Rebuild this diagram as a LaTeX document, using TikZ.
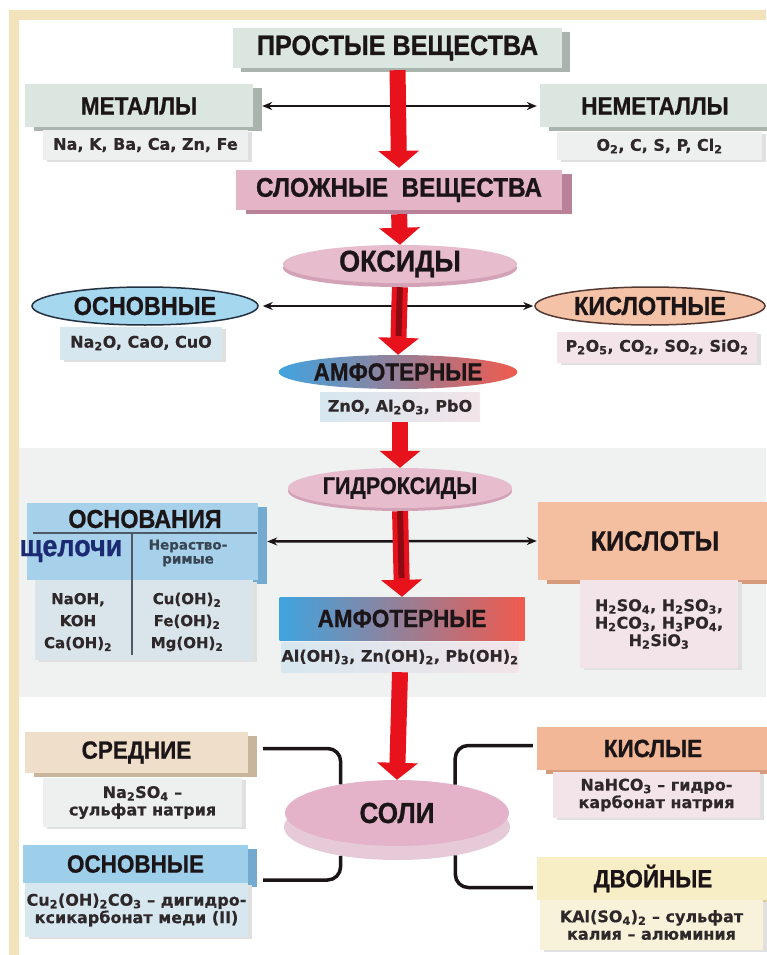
\documentclass[tikz,border=0pt]{standalone}
\usepackage{fontspec}
\newfontfamily\hdfam[FakeStretch=0.9, FakeBold=0.8]{Liberation Sans}
\newfontfamily\subfam[FakeBold=0.4]{DejaVu Sans}
\usetikzlibrary{shapes.geometric,shadows,arrows.meta}
\definecolor{ink}{HTML}{1C1517}
\definecolor{frameBeige}{HTML}{F2E3BD}
\definecolor{band}{HTML}{EFF2F0}
\definecolor{greyTile}{HTML}{DCE6E1}
\definecolor{greyShade}{HTML}{A9B4AF}
\definecolor{greyLight}{HTML}{EDF0EF}
\definecolor{pinkTile}{HTML}{E3B5C7}
\definecolor{pinkShade}{HTML}{BA8299}
\definecolor{ovalPink}{HTML}{E7BDCE}
\definecolor{ovalShade}{HTML}{D3A2B7}
\definecolor{blueOval}{HTML}{A5D7EE}
\definecolor{blueLine}{HTML}{22303F}
\definecolor{peachOval}{HTML}{F4C2A6}
\definecolor{peachLine}{HTML}{553A33}
\definecolor{blueSub}{HTML}{D6E7EF}
\definecolor{pinkSub}{HTML}{F2E4E9}
\definecolor{ampBlue}{HTML}{3FA4E0}
\definecolor{ampPink}{HTML}{DCBAD0}
\definecolor{ampRed}{HTML}{EF5A4E}
\definecolor{osnBlue}{HTML}{A7D1EA}
\definecolor{osnShade}{HTML}{74AAD0}
\definecolor{osnLight}{HTML}{D9E5EB}
\definecolor{kislPeach}{HTML}{F4BEA1}
\definecolor{peachShade}{HTML}{D69A7C}
\definecolor{sredBeige}{HTML}{EFDECA}
\definecolor{sredShade}{HTML}{C9B49C}
\definecolor{saltBlue}{HTML}{9DCFEA}
\definecolor{kislyePeach}{HTML}{F2B797}
\definecolor{dvoinYellow}{HTML}{F8EEC5}
\definecolor{dvoinShade}{HTML}{D8CC9C}
\definecolor{dvoinSub}{HTML}{F8F2DA}
\definecolor{soliPink}{HTML}{E4B3CA}
\definecolor{soliBaseCol}{HTML}{E6CAD7}
\definecolor{arrowRed}{HTML}{E8121C}
\definecolor{darkRed}{HTML}{8E0A12}
\definecolor{navy}{HTML}{1B2A72}
\newcommand\ix[1]{\textsubscript{#1}}
\tikzset{
  hd/.style={font=\hdfam\bfseries\fontsize{#1}{#1}\selectfont},
  hd/.default=25,
  tile/.style={rectangle, inner sep=0pt, text=ink, hd},
  subtile/.style={rectangle, inner sep=0pt, text=ink!92, align=center,
    font=\subfam\bfseries\fontsize{16}{17.5}\selectfont},
  oval/.style={ellipse, inner sep=0pt, text=ink, hd},
  slab/.style 2 args={drop shadow={shadow xshift=#1, shadow yshift=-4pt, fill=#2, opacity=1}},
  thinslab/.style={drop shadow={shadow xshift=4pt, shadow yshift=-2pt, fill=black!12, opacity=1}},
  redarrow/.style={draw=arrowRed, line width=16pt, -{Triangle[length=17pt,width=40pt]}},
  darkcore/.style={draw=darkRed, line width=6pt, shorten >=19pt},
  twoway/.style={draw=ink, line width=2.5pt, {Stealth[length=10pt,width=8pt]}-{Stealth[length=10pt,width=8pt]}},
  bracket/.style={draw=ink, line width=3.5pt, rounded corners=13pt},
  rule/.style={draw=blueLine!80, line width=2pt}
}
\begin{document}
\begin{tikzpicture}[x=1pt, y=-1pt]
\useasboundingbox (0,0) rectangle (766,955);
\fill[white] (0,0) rectangle (766,955);
\fill[frameBeige] (9,10) rectangle (766,955);
\fill[white!98!band] (19,20) rectangle (766,955);
\fill[band] (19,448) rectangle (766,697);

\node[tile, hd=28, fill=greyTile, slab={8pt}{greyShade}, minimum width=329pt, minimum height=40pt] (prostye) at (397.5,48) {ПРОСТЫЕ ВЕЩЕСТВА};
\node[tile, fill=greyTile, slab={9pt}{greyShade}, minimum width=228pt, minimum height=43pt] (metally) at (139,106) {МЕТАЛЛЫ};
\node[subtile, fill=greyLight, thinslab, minimum width=205pt, minimum height=30pt] (metallySub) at (145.5,145) {Na, K, Ba, Ca, Zn, Fe};
\node[tile, fill=greyTile, slab={9pt}{greyShade}, minimum width=230pt, minimum height=43pt] (nemetally) at (655,106) {НЕМЕТАЛЛЫ};
\node[subtile, fill=greyLight, thinslab, minimum width=205pt, minimum height=28pt] (nemetallySub) at (659.5,146) {O\ix{2}, C, S, P, Cl\ix{2}};
\node[tile, hd=27, fill=pinkTile, slab={10pt}{pinkShade}, minimum width=326pt, minimum height=40pt] (slozhnye) at (399,190) {СЛОЖНЫЕ\ \ ВЕЩЕСТВА};

\node[oval, hd=30, fill=ovalPink, drop shadow={shadow xshift=0pt, shadow yshift=-4pt, fill=ovalShade, opacity=1}, minimum width=234pt, minimum height=38pt] (oksidy) at (400,264) {ОКСИДЫ};
\node[oval, hd=26, fill=blueOval, draw=blueLine, line width=1.5pt, minimum width=226pt, minimum height=38pt] (osnOx) at (145,306) {ОСНОВНЫЕ};
\node[subtile, fill=blueSub, thinslab, minimum width=162pt, minimum height=33pt] (osnOxSub) at (141,343) {Na\ix{2}O, CaO, CuO};
\node[oval, hd=26, fill=peachOval, draw=peachLine, line width=1.5pt, minimum width=230pt, minimum height=38pt] (kislOx) at (650,306) {КИСЛОТНЫЕ};
\node[subtile, fill=pinkSub, thinslab, minimum width=200pt, minimum height=31pt] (kislOxSub) at (657,347) {P\ix{2}O\ix{5}, CO\ix{2}, SO\ix{2}, SiO\ix{2}};
\node[oval, left color=ampBlue, middle color=ampPink, right color=ampRed, minimum width=236pt, minimum height=34pt] (amfOx) at (398,372) {АМФОТЕРНЫЕ};
\node[subtile, left color=blueSub, right color=pinkSub, minimum width=160pt, minimum height=29pt] (amfOxSub) at (400,407) {ZnO, Al\ix{2}O\ix{3}, PbO};

\node[oval, hd=24, fill=ovalPink, drop shadow={shadow xshift=0pt, shadow yshift=-3pt, fill=ovalShade, opacity=1}, minimum width=224pt, minimum height=40pt] (gidroksidy) at (400,488) {ГИДРОКСИДЫ};
\node[tile, fill=osnBlue, slab={9pt}{osnShade}, minimum width=231pt, minimum height=77pt] (osnovaniya) at (142.5,541.5) {};
\node[subtile, fill=osnLight, thinslab, minimum width=218pt, minimum height=80pt] (osnList) at (144,620) {};
\node[text=ink, hd=26] (osnHead) at (145,519) {ОСНОВАНИЯ};
\draw[rule] (33,533) -- (257,533);
\draw[rule] (132,533) -- (132,655);
\node[text=navy, font=\hdfam\bfseries\fontsize{30}{30}\selectfont] (shchelochi) at (71,551) {щелочи};
\node[text=blueLine!90, align=center, font=\subfam\bfseries\fontsize{13.5}{14}\selectfont] (nerastv) at (188,553) {Нераство-\\римые};
\node[text=ink!92, align=center, font=\subfam\bfseries\fontsize{15}{22}\selectfont] (listSol) at (78,622) {NaOH,\\KOH\\Ca(OH)\ix{2}};
\node[text=ink!92, align=center, font=\subfam\bfseries\fontsize{15}{22}\selectfont] (listInsol) at (187,622) {Cu(OH)\ix{2}\\Fe(OH)\ix{2}\\Mg(OH)\ix{2}};
\node[tile, hd=28, fill=kislPeach, slab={9pt}{peachShade}, minimum width=234pt, minimum height=78pt] (kisloty) at (655,541) {КИСЛОТЫ};
\node[subtile, fill=pinkSub, thinslab, minimum width=158pt, minimum height=88pt] (kislotySub) at (659,624) {H\ix{2}SO\ix{4}, H\ix{2}SO\ix{3},\\H\ix{2}CO\ix{3}, H\ix{3}PO\ix{4},\\H\ix{2}SiO\ix{3}};
\node[tile, left color=ampBlue, middle color=ampPink, right color=ampRed, minimum width=245pt, minimum height=43pt] (amfHyd) at (402,618.5) {АМФОТЕРНЫЕ};
\node[subtile, left color=blueSub, right color=pinkSub, minimum width=230pt, minimum height=30pt] (amfHydSub) at (400,657) {Al(OH)\ix{3}, Zn(OH)\ix{2}, Pb(OH)\ix{2}};

\node[oval, fill=soliBaseCol, minimum width=226pt, minimum height=66pt] (soliBase) at (397,827) {};
\node[oval, hd=29, fill=soliPink, minimum width=224pt, minimum height=66pt] (soli) at (397,813) {СОЛИ};
\node[tile, fill=sredBeige, slab={9pt}{sredShade}, minimum width=223pt, minimum height=41pt] (srednie) at (136.5,752.5) {СРЕДНИЕ};
\node[subtile, fill=greyLight, thinslab, minimum width=199pt, minimum height=49pt] (sredSub) at (142.5,802.5) {Na\ix{2}SO\ix{4} –\\сульфат натрия};
\node[tile, fill=saltBlue, slab={9pt}{osnShade}, minimum width=225pt, minimum height=38pt] (osnSol) at (135.5,864) {ОСНОВНЫЕ};
\node[subtile, fill=blueSub, thinslab, minimum width=223pt, minimum height=54pt] (osnSolSub) at (136.5,910) {Cu\ix{2}(OH)\ix{2}CO\ix{3} – дигидро-\\ксикарбонат меди (II)};
\node[tile, fill=kislyePeach, slab={9pt}{peachShade}, minimum width=232pt, minimum height=43pt] (kislye) at (653,748.5) {КИСЛЫЕ};
\node[subtile, fill=pinkSub, thinslab, minimum width=207pt, minimum height=46pt] (kislyeSub) at (656.5,795) {NaHCO\ix{3} – гидро-\\карбонат натрия};
\node[tile, fill=dvoinYellow, slab={9pt}{dvoinShade}, minimum width=232pt, minimum height=43pt] (dvoinye) at (653,878.5) {ДВОЙНЫЕ};
\node[subtile, fill=dvoinSub, thinslab, minimum width=223pt, minimum height=50pt] (dvoinyeSub) at (651.5,925) {KAl(SO\ix{4})\ix{2} – сульфат\\калия – алюминия};

\draw[twoway, shorten <=9pt, shorten >=3pt] (metally.east) -- (nemetally.west);
\draw[twoway, shorten <=4pt, shorten >=1pt] (osnOx.east) -- (kislOx.west);
\draw[twoway, shorten <=9pt, shorten >=1pt] (osnovaniya.east) -- (kisloty.west);

\draw[redarrow, shorten <=2pt, shorten >=2pt] (prostye.south) -- (slozhnye.north);
\draw[redarrow, shorten <=4pt] (slozhnye.south) -- (oksidy.north);
\draw[redarrow, shorten <=4pt] (oksidy.south) -- (amfOx.north);
\draw[darkcore, shorten <=4pt] (oksidy.south) -- (amfOx.north);
\draw[redarrow] (amfOxSub.south) -- (gidroksidy.north);
\draw[redarrow, shorten <=3pt] (gidroksidy.south) -- (amfHyd.north);
\draw[darkcore, shorten <=3pt] (gidroksidy.south) -- (amfHyd.north);
\draw[redarrow] (amfHydSub.south) -- (soli.north);

\draw[bracket, shorten <=15pt] ([yshift=4pt]srednie.east) -| (soli.153);
\draw[bracket, shorten <=15pt] ([yshift=-16pt]osnSol.east) -| (soliBase.207);
\draw[bracket, shorten <=4pt] ([yshift=3pt]kislye.west) -| (soli.26);
\draw[bracket, shorten <=4pt] ([yshift=-9pt]dvoinye.west) -| (soliBase.-26);
\end{tikzpicture}
\end{document}
